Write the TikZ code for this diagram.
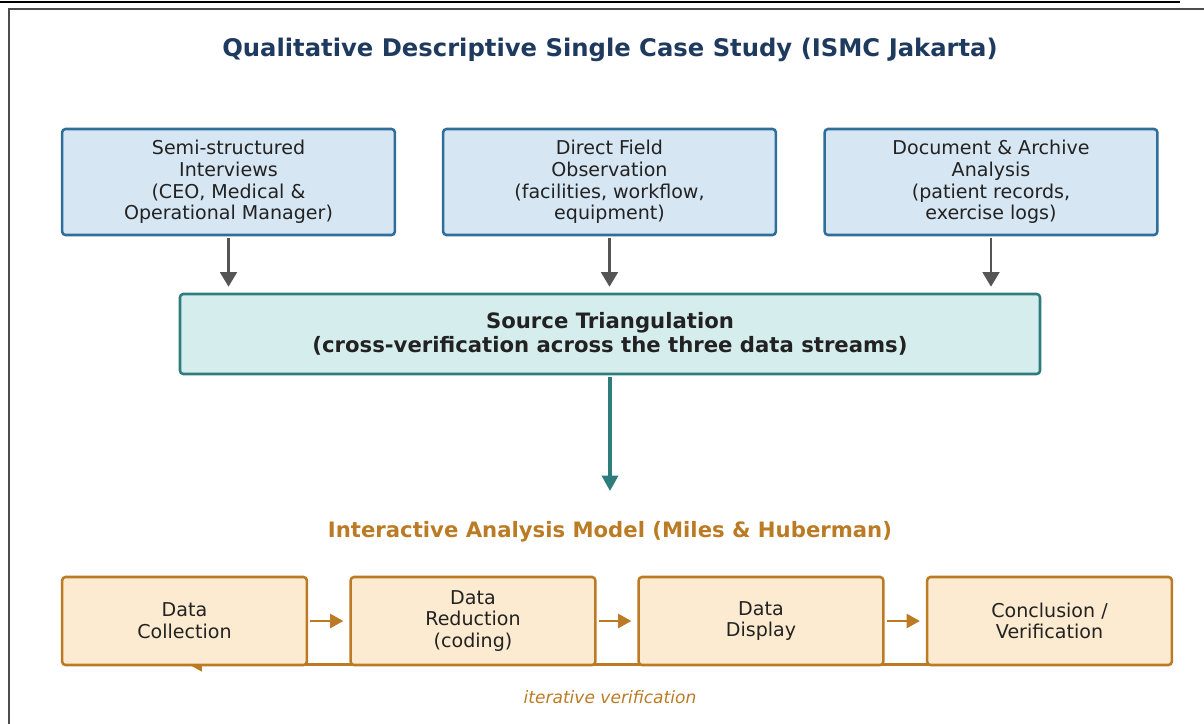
\documentclass[tikz,border=0pt]{standalone}
\usepackage{fontspec}
\setmainfont{DejaVu Sans}
\usetikzlibrary{arrows.meta,backgrounds}

\definecolor{azultitulo}{HTML}{1F3A5F}
\definecolor{azulborde}{HTML}{2F6E98}
\definecolor{azulfondo}{HTML}{D6E6F3}
\definecolor{tealborde}{HTML}{2F7C7C}
\definecolor{tealfondo}{HTML}{D5EDED}
\definecolor{ocreborde}{HTML}{BB7B25}
\definecolor{ocrefondo}{HTML}{FCEBD0}
\definecolor{grisflecha}{HTML}{555555}
\definecolor{texto}{HTML}{222222}

\tikzset{
	caja/.style={rounded corners=2.5pt, line width=1.9pt, inner sep=0pt},
	fuentecaja/.style={caja, font=\fontsize{14.3}{16.3}\selectfont, text=texto, align=center},
	cajaazul/.style={fuentecaja, draw=azulborde, fill=azulfondo,
		minimum width=249.5pt, minimum height=79.5pt},
	cajateal/.style={caja, draw=tealborde, fill=tealfondo, text=texto, align=center,
		font=\bfseries\fontsize{15.9}{18}\selectfont,
		minimum width=645pt, minimum height=60pt},
	cajaocre/.style={fuentecaja, draw=ocreborde, fill=ocrefondo,
		minimum width=183.5pt, minimum height=66pt},
	flechagris/.style={draw=grisflecha, line width=2.2pt, shorten <=1.5pt, shorten >=4.5pt,
		-{Triangle[length=11pt, width=12.5pt]}},
	flechateal/.style={draw=tealborde, line width=2.4pt, shorten <=1.5pt,
		-{Triangle[length=11.5pt, width=12pt]}},
	flechaocre/.style={draw=ocreborde, line width=2.1pt, shorten <=1.5pt, shorten >=4.5pt,
		-{Triangle[length=10pt, width=10.5pt]}},
}

\begin{document}
\begin{tikzpicture}[x=0.75pt, y=-0.75pt]
	\useasboundingbox (0,0) rectangle (1204,724);
	% Marco de la figura
	\draw[black, line width=1.6pt] (0,2) -- (1180,2);
	\draw[black!70, line width=0.8pt] (9,730) -- (9,9) -- (1210,9);

	% Titulo
	\node[font=\bfseries\fontsize{18.2}{21}\selectfont, text=azultitulo] (titulo) at (610,50)
		{Qualitative Descriptive Single Case Study (ISMC Jakarta)};

	% Tres fuentes de datos
	\node[cajaazul] (entrevistas) at (228.5,182)
		{Semi-structured\\Interviews\\(CEO, Medical \&\\Operational Manager)};
	\node[cajaazul] (observacion) at (609.5,182)
		{Direct Field\\Observation\\(facilities, workflow,\\equipment)};
	\node[cajaazul] (documentos) at (991,182)
		{Document \& Archive\\Analysis\\(patient records,\\exercise logs)};

	% Triangulacion
	\node[cajateal] (triangulacion) at (610,334)
		{Source Triangulation\\(cross-verification across the three data streams)};

	\draw[flechagris] (entrevistas.south) -- (entrevistas.south |- triangulacion.north);
	\draw[flechagris] (observacion.south) -- (observacion.south |- triangulacion.north);
	\draw[flechagris] (documentos.south) -- (documentos.south |- triangulacion.north);

	% Modelo interactivo
	\coordinate (fin) at (610,491);
	\draw[flechateal] (triangulacion.south) -- (fin);
	\node[font=\bfseries\fontsize{15.9}{18}\selectfont, text=ocreborde] (modelo) at (610,532)
		{Interactive Analysis Model (Miles \& Huberman)};

	\node[cajaocre] (recoleccion) at (184.5,621) {Data\\Collection};
	\node[cajaocre] (reduccion) at (473,621) {Data\\Reduction\\(coding)};
	\node[cajaocre] (despliegue) at (761,621) {Data\\Display};
	\node[cajaocre] (conclusion) at (1049.5,621) {Conclusion /\\Verification};

	\draw[flechaocre] (recoleccion) -- (reduccion);
	\draw[flechaocre] (reduccion) -- (despliegue);
	\draw[flechaocre] (despliegue) -- (conclusion);

	% Ciclo de verificacion (detras de las cajas)
	\begin{scope}[on background layer]
		\draw[flechaocre, shorten >=0pt] ([yshift=1.5pt]conclusion.south) -- ([xshift=3pt, yshift=1.5pt]recoleccion.south);
	\end{scope}
	\node[font=\itshape\fontsize{12.8}{15}\selectfont, text=ocreborde] (iterativa) at (610,697)
		{iterative verification};
\end{tikzpicture}
\end{document}
